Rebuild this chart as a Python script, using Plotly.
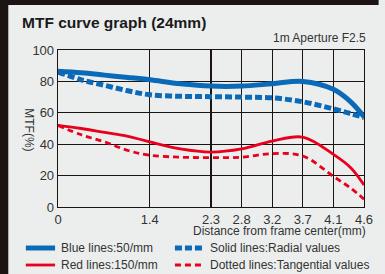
import plotly.graph_objects as go

# Distance from frame center (mm)
x_mm = [0, 0.35, 0.7, 1.05, 1.38, 1.84, 2.3, 2.76, 3.22, 3.68, 4.14, 4.4, 4.6]

# MTF values (%)
blue_solid = [86.5, 85.5, 84, 82.5, 81, 78.5, 77, 77, 78.5, 80, 75, 67, 57.5]
blue_dashed = [86, 81, 77.5, 74, 71.5, 70.5, 70.3, 70, 69.5, 67, 62.5, 59.5, 57]
red_solid = [52, 50, 47.5, 45, 41.5, 37, 35, 37, 42, 44.5, 33.5, 25, 14]
red_dashed = [52, 46, 41.5, 36, 33, 31.7, 31.5, 31.7, 34, 32.5, 19.5, 12, 5]

# Tick labels
x_tick_values = [0, 1.38, 2.3, 2.76, 3.22, 3.68, 4.14, 4.6]
x_tick_labels = ["0", "1.4", "2.3", "2.8", "3.2", "3.7", "4.1", "4.6"]
y_tick_values = [0, 20, 40, 60, 80, 100]

legend_names = ["Blue lines:50/mm", "Solid lines:Radial values",
                "Red lines:150/mm", "Dotted lines:Tangential values"]

BLUE = "#0a6ab8"
RED = "#e8001c"
BG = "#eceeee"
DARK = "#1c1412"
TXT = "#333333"
FONT = "Liberation Sans, Arial, sans-serif"

W, H = 385, 274
L, R, T, B = 58, 13, 50, 67
PW, PH = W - L - R, H - T - B


def px(xp):
    return (xp - L) / PW


def py(yp):
    return (H - B - yp) / PH


styles = [
    dict(color=BLUE, width=5),
    dict(color=BLUE, width=5, dash="7px,3px"),
    dict(color=RED, width=2.8),
    dict(color=RED, width=2.8, dash="6px,4px"),
]
series = [blue_solid, blue_dashed, red_solid, red_dashed]

fig = go.Figure()
for name, ys, st in zip(legend_names, series, styles):
    fig.add_trace(go.Scatter(x=x_mm, y=ys, mode="lines", name=name,
                             line=dict(shape="spline", smoothing=1, **st)))

axis_common = dict(showline=True, linecolor=DARK, linewidth=1.3, mirror=True,
                   showgrid=True, gridcolor=DARK, gridwidth=1.2, zeroline=False,
                   ticks="", tickfont=dict(family=FONT, size=13, color=TXT))

fig.update_xaxes(range=[0, 4.6], tickmode="array", tickvals=x_tick_values,
                 ticktext=x_tick_labels, **axis_common)
fig.update_yaxes(range=[0, 100], tickmode="array", tickvals=y_tick_values, **axis_common)

# frame: dark top/left border
fig.add_shape(type="rect", xref="paper", yref="paper",
              x0=px(-2), x1=px(7), y0=py(H + 2), y1=py(-2),
              fillcolor=DARK, line_width=0, layer="above")
fig.add_shape(type="rect", xref="paper", yref="paper",
              x0=px(-2), x1=px(W + 2), y0=py(5), y1=py(-2),
              fillcolor=DARK, line_width=0, layer="above")

fig.add_annotation(text="<b>MTF curve graph (24mm)</b>", xref="paper", yref="paper",
                   x=px(19), y=py(22), xanchor="left", yanchor="middle",
                   showarrow=False, font=dict(family=FONT, size=15.5, color="#1a1a1a"))
fig.add_annotation(text="1m Aperture F2.5", xref="paper", yref="paper",
                   x=px(376), y=py(38), xanchor="right", yanchor="middle",
                   showarrow=False, font=dict(family=FONT, size=12, color=TXT))
fig.add_annotation(text="MTF(%)", xref="paper", yref="paper", textangle=90,
                   x=px(28), y=py(130), xanchor="center", yanchor="middle",
                   showarrow=False, font=dict(family=FONT, size=12, color=TXT))
fig.add_annotation(text="Distance from frame center(mm)", xref="paper", yref="paper",
                   x=px(376), y=py(231), xanchor="right", yanchor="middle",
                   showarrow=False, font=dict(family=FONT, size=12, color=TXT))

# manual legend (2 columns x 2 rows)
legend_pos = [(25, 248), (178, 248), (25, 265), (178, 265)]
for name, st, (lx, ly) in zip(legend_names, styles, legend_pos):
    fig.add_shape(type="line", xref="paper", yref="paper",
                  x0=px(lx), x1=px(lx + 30), y0=py(ly), y1=py(ly),
                  line=dict(color=st["color"], width=st["width"],
                            dash=st.get("dash", "solid")))
    fig.add_annotation(text=name, xref="paper", yref="paper",
                       x=px(lx + 34), y=py(ly), xanchor="left", yanchor="middle",
                       showarrow=False, font=dict(family=FONT, size=12, color=TXT))

fig.update_layout(
    width=W, height=H,
    margin=dict(l=L, r=R, t=T, b=B),
    paper_bgcolor=BG, plot_bgcolor=BG,
    showlegend=False,
)

fig.write_html("out.html", config={"displayModeBar": False, "staticPlot": True},
               post_script="document.body.style.margin='0';"
                           "document.body.style.overflow='hidden';"
                           "document.body.style.background='#1c1412';")
